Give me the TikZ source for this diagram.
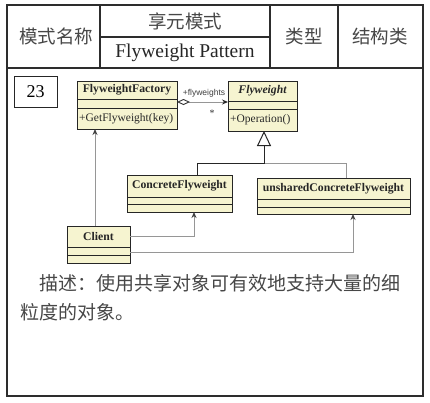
\documentclass[tikz,border=0pt]{standalone}
\usepackage{fontspec}
\setmainfont{Liberation Serif}
\newfontfamily\cjk{Noto Sans CJK SC}
\newfontfamily\labelfont{Liberation Sans}
\usetikzlibrary{arrows.meta,calc}

\definecolor{umlfill}{RGB}{246,244,208}
\definecolor{linkgray}{RGB}{150,150,150}
\definecolor{framecol}{RGB}{45,45,45}

\tikzset{
  frame/.style={draw=framecol, line width=1.2pt},
  cjktext/.style={font=\cjk\fontsize{18.5}{20}\selectfont, text=black!72, inner sep=0pt},
  clsbox/.style={draw=black!85, fill=umlfill, line width=0.9pt, inner sep=0pt, outer sep=0pt},
  clsline/.style={draw=black!85, line width=0.9pt},
  clsname/.style={font=\fontsize{11.7}{12}\selectfont\bfseries, inner sep=0pt, text=black!85},
  clsop/.style={font=\fontsize{11.5}{12}\selectfont, inner sep=0pt, text=black!85},
  assoc/.style={draw=linkgray, line width=1pt,
    {Diamond[open,length=13pt,width=6pt,line width=0.9pt,color=black!80]}-{Stealth[length=6pt,width=5pt,color=black!85]}},
  genblack/.style={draw=black!85, line width=1pt, -{Triangle[open,length=15pt,width=14pt,line width=1pt]}},
  gengray/.style={draw=linkgray, line width=1pt},
  dep/.style={draw=linkgray, line width=1pt, -{Stealth[length=6pt,width=5pt,color=black!75]}},
}

% name, x, y, width, title height, attribute height, operation height, title, operation
\newcommand\umlclass[9]{%
  \pgfmathsetmacro\clsheight{#5+#6+#7}%
  \node[clsbox, anchor=north west, minimum width=#4pt, minimum height=\clsheight pt] (#1) at (#2,#3) {};
  \draw[clsline] ($(#1.north west)+(0,#5)$) -- ($(#1.north east)+(0,#5)$);
  \draw[clsline] ($(#1.north west)+(0,#5+#6)$) -- ($(#1.north east)+(0,#5+#6)$);
  \node[clsname] (#1-name) at ($(#1.north)+(0,#5/2)$) {#8};
  \node[clsop, anchor=west] (#1-op) at ($(#1.north west)+(2,#5+#6+#7/2)$) {#9};
}

\begin{document}
\begin{tikzpicture}[x=1pt, y=-1pt]
  \useasboundingbox (0,0) rectangle (430,402);
  \fill[white] (0,0) rectangle (430,402);

  % header table
  \draw[frame] (7,5) rectangle (423,396);
  \draw[frame] (7,68) -- (423,68);
  \draw[frame] (100,5) -- (100,68);
  \draw[frame] (270,5) -- (270,68);
  \draw[frame] (338,5) -- (338,68);
  \draw[frame] (100,37) -- (270,37);

  \node[cjktext] (hname) at (56,36) {模式名称};
  \node[cjktext] (hcn) at (185,21) {享元模式};
  \node[font=\fontsize{19.5}{20}\selectfont, text=black!85, inner sep=0pt] (hen) at (185,53) {Flyweight Pattern};
  \node[cjktext] (htype) at (304,36) {类型};
  \node[cjktext] (hkind) at (380,36) {结构类};

  % pattern number
  \node[draw=black!85, line width=0.9pt, minimum width=43pt, minimum height=31pt,
        font=\fontsize{18}{18}\selectfont, inner sep=0pt] (num) at (35.5,92) {23};

  % classes
  \umlclass{fact}{77}{81}{100}{18}{9}{21}{FlyweightFactory}{+GetFlyweight(key)}
  \umlclass{fly}{228}{81}{69}{20}{8}{22}{\itshape Flyweight}{+Operation()}
  \umlclass{cf}{127}{175}{105}{22}{7}{8}{ConcreteFlyweight}{}
  \umlclass{ucf}{257}{178}{153}{21}{8}{7}{unsharedConcreteFlyweight}{}
  \umlclass{client}{67}{226}{63}{21}{8}{8}{Client}{}

  % aggregation Factory -> Flyweight
  \draw[assoc] ($(fact.north east)+(0,21)$) -- ($(fly.north west)+(0,21)$);
  \node[font=\labelfont\fontsize{8.5}{9}\selectfont, inner sep=0pt, text=black!75] (fwlabel) at (204,93) {+flyweights};
  \node[font=\fontsize{10}{10}\selectfont, inner sep=0pt, text=black!80] (mult) at (212,113) {*};

  % generalization
  \coordinate (genjoin) at ($(fly.south)+(1.5,32)$);
  \coordinate (cftop) at ($(cf.north west)+(70,0)$);
  \coordinate (ucftop) at ($(ucf.north west)+(89,0)$);
  \draw[gengray] (ucftop) |- (genjoin);
  \draw[genblack] (cftop) |- (genjoin) -- (genjoin |- fly.south);

  % client dependencies
  \coordinate (clup) at ($(client.north west)+(28,0)$);
  \draw[dep] (clup) -- (clup |- fact.south);
  \draw[dep] ($(client.north east)+(0,10)$) -| ($(cf.south west)+(67,0)$);
  \draw[dep] ($(client.north east)+(0,26)$) -| ($(ucf.south west)+(96,0)$);

  % description
  \node[cjktext, anchor=west, font=\cjk\fontsize{19}{20}\selectfont] (desc1) at (39,283) {描述：使用共享对象可有效地支持大量的细};
  \node[cjktext, anchor=west, font=\cjk\fontsize{19}{20}\selectfont] (desc2) at (20,312) {粒度的对象。};
\end{tikzpicture}
\end{document}
